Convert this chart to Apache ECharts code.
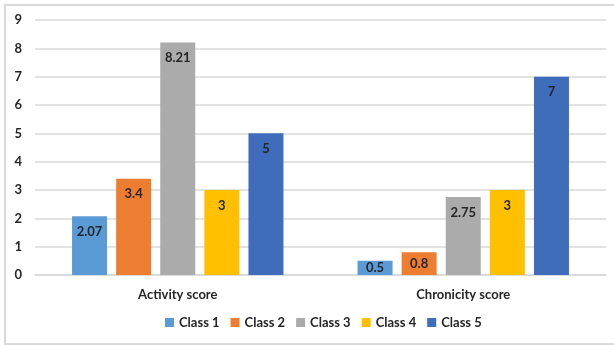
<!DOCTYPE html>
<html>
<head>
<meta charset="utf-8">
<script src="https://cdn.jsdelivr.net/npm/echarts@6/dist/echarts.min.js"></script>
<style>
  html, body { margin: 0; padding: 0; background: #ffffff; }
  #chart { width: 614px; height: 345px; }
</style>
</head>
<body>
<div id="chart"></div>
<script>
// Score categories and per-class values
const categories = ['Activity score', 'Chronicity score'];
const seriesNames = ['Class 1', 'Class 2', 'Class 3', 'Class 4', 'Class 5'];
const class1 = [2.07, 0.5];
const class2 = [3.4, 0.8];
const class3 = [8.21, 2.75];
const class4 = [3, 3];
const class5 = [5, 7];
const yTicks = [0, 1, 2, 3, 4, 5, 6, 7, 8, 9];

const values = [class1, class2, class3, class4, class5];
const colors = ['#5B9BD5', '#ED7D31', '#ABABAB', '#FFC000', '#3F6DBC'];
const fontFamily = 'Lato, "Open Sans", sans-serif';

// Short bars cannot hold the label below their top edge, so centre it instead
function barItem(v) {
  return v < 1
    ? { value: v, label: { position: 'inside' } }
    : { value: v };
}

const chart = echarts.init(document.getElementById('chart'));

chart.setOption({
  animation: false,
  textStyle: { fontFamily: fontFamily },
  graphic: [{
    type: 'rect',
    shape: { x: 5, y: 5, width: 620, height: 339 },
    style: { fill: 'none', stroke: '#d9d9d9', lineWidth: 2 },
    silent: true
  }],
  grid: { left: 35, right: 8, top: 20, bottom: 70 },
  legend: {
    data: seriesNames,
    bottom: 11,
    left: 160,
    icon: 'rect',
    itemWidth: 9,
    itemHeight: 9,
    itemGap: 11,
    textStyle: { fontSize: 13, fontWeight: 'bold', color: '#262626', fontFamily: fontFamily }
  },
  xAxis: {
    type: 'category',
    data: categories,
    axisLine: { lineStyle: { color: '#d9d9d9', width: 1.5 } },
    axisTick: { show: false },
    axisLabel: { fontSize: 13, fontWeight: 'bold', color: '#262626', margin: 13 }
  },
  yAxis: {
    type: 'value',
    min: yTicks[0],
    max: yTicks[yTicks.length - 1],
    interval: 1,
    axisLine: { show: false },
    axisTick: { show: false },
    axisLabel: { fontSize: 13, fontWeight: 'bold', color: '#262626', margin: 13 },
    splitLine: { lineStyle: { color: '#d9d9d9', width: 1.5 } }
  },
  series: seriesNames.map((name, i) => ({
    name: name,
    type: 'bar',
    data: values[i].map(barItem),
    barWidth: 35,
    barGap: '26%',
    itemStyle: { color: colors[i] },
    label: {
      show: true,
      position: 'insideTop',
      distance: 9,
      fontSize: 13,
      fontWeight: 'bold',
      color: '#262626'
    }
  }))
});
</script>
</body>
</html>
